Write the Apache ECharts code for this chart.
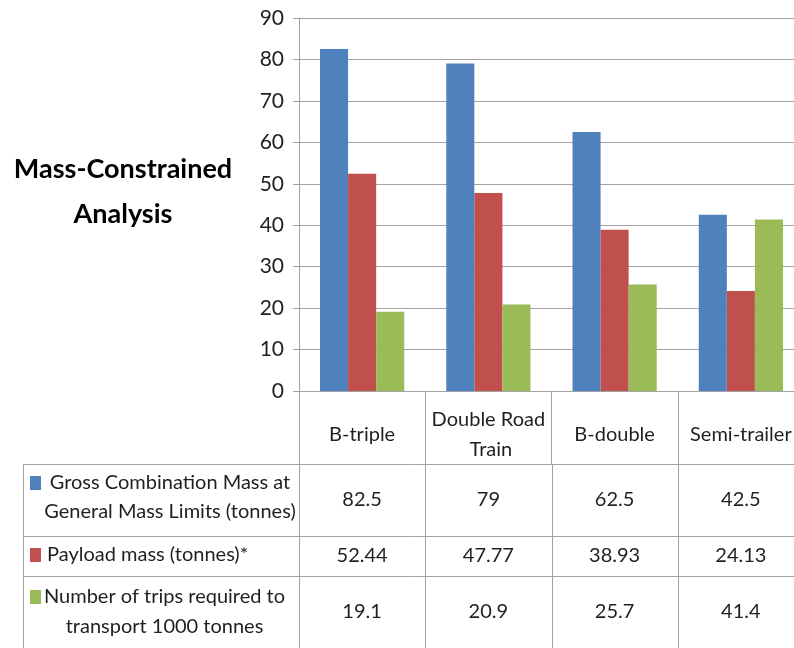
<!DOCTYPE html>
<html>
<head>
<meta charset="utf-8">
<script src="https://cdn.jsdelivr.net/npm/echarts@6/dist/echarts.min.js"></script>
<style>
  html, body { margin: 0; padding: 0; background: #fff; }
  #chart { width: 794px; height: 648px; }
</style>
</head>
<body>
<div id="chart"></div>
<script>
// Vehicle types along the category axis
const categories = ['B-triple', 'Double Road Train', 'B-double', 'Semi-trailer'];

// Series names as shown in the data table
const seriesNames = [
  'Gross Combination Mass at General Mass Limits (tonnes)',
  'Payload mass (tonnes)*',
  'Number of trips required to transport 1000 tonnes'
];

// Values per vehicle type
const grossMass = [82.5, 79, 62.5, 42.5];
const payloadMass = [52.44, 47.77, 38.93, 24.13];
const tripsPer1000t = [19.1, 20.9, 25.7, 41.4];

// Value-axis tick range
const yTicks = { min: 0, max: 90, step: 10 };

const seriesData = [grossMass, payloadMass, tripsPer1000t];
const colors = ['#4F81BD', '#C0504D', '#9BBB59'];
const FONT = 'Lato, "Noto Sans", sans-serif';
const GRID_LINE = '#a3a3a3';
const TEXT = '#1f1f1f';

const chart = echarts.init(document.getElementById('chart'), null, { renderer: 'canvas' });

// plot area runs slightly past the right edge of the canvas
const GRID = { left: 299, top: 18, right: -10, bottom: 257, outerBoundsMode: 'none' };
const AXIS_Y = 648 - GRID.bottom;

chart.setOption({
  animation: false,
  textStyle: { fontFamily: FONT },
  grid: GRID,
  xAxis: {
    type: 'category',
    data: categories,
    axisLine: { show: true, lineStyle: { color: GRID_LINE, width: 1 } },
    axisTick: { show: true, length: 73, lineStyle: { color: GRID_LINE, width: 1 } },
    axisLabel: {
      fontFamily: FONT, fontSize: 20, color: TEXT,
      margin: 44, verticalAlign: 'middle', lineHeight: 30,
      width: 118, overflow: 'break', interval: 0
    }
  },
  yAxis: {
    type: 'value',
    min: yTicks.min, max: yTicks.max, interval: yTicks.step,
    axisLine: { show: true, lineStyle: { color: GRID_LINE, width: 1 } },
    axisTick: { show: true, length: 6, lineStyle: { color: GRID_LINE } },
    axisLabel: { fontFamily: FONT, fontSize: 21, color: TEXT, margin: 15 },
    splitLine: { show: true, lineStyle: { color: GRID_LINE, width: 1 } }
  },
  series: seriesData.map((d, i) => ({
    type: 'bar',
    name: seriesNames[i],
    data: d,
    barGap: '0%',
    barCategoryGap: '33.3%',
    itemStyle: { color: colors[i] }
  }))
});

// Data table beneath the chart, aligned to the category axis bands
(function drawTable() {
  const rowTops = [464, 536, 576];          // row boundaries of the table body
  const tableLeft = 23;
  const centers = categories.map((c) => chart.convertToPixel({ xAxisIndex: 0 }, c));
  const band = centers[1] - centers[0];
  const els = [];
  const line = (x1, y1, x2, y2) => els.push({
    type: 'line', silent: true,
    shape: { x1, y1, x2, y2 },
    style: { stroke: GRID_LINE, lineWidth: 1 }
  });

  // horizontal rules
  rowTops.forEach((y) => line(tableLeft, y + 0.5, 794, y + 0.5));
  // vertical rules
  line(tableLeft + 0.5, rowTops[0], tableLeft + 0.5, 648);
  line(GRID.left + 0.5, AXIS_Y, GRID.left + 0.5, 648);
  centers.forEach((cx) => {
    const x = Math.round(cx + band / 2) + 0.5;
    line(x, rowTops[0], x, 648);
  });

  const txt = (text, x, y, align) => els.push({
    type: 'text', silent: true,
    style: { text, x, y, align: align || 'center', verticalAlign: 'middle',
      fill: TEXT, font: '20px ' + FONT }
  });

  // legend cells: colour key plus series name
  const legendLines = [
    { lines: ['Gross Combination Mass at', 'General Mass Limits (tonnes)'], cx: 170, ys: [483, 512] },
    { lines: ['Payload mass (tonnes)*'], cx: null, ys: [555] },
    { lines: ['Number of trips required to', 'transport 1000 tonnes'], cx: 164.5, ys: [597, 627] }
  ];
  legendLines.forEach((row, i) => {
    els.push({
      type: 'rect', silent: true,
      shape: { x: 30, y: row.ys[0] - 7, width: 11, height: 14 },
      style: { fill: colors[i] }
    });
    row.lines.forEach((t, k) => {
      if (row.cx === null) txt(t, 47, row.ys[k], 'left');
      else txt(t, row.cx, row.ys[k], 'center');
    });
  });

  // value cells
  const valueY = [500, 556, 612];
  seriesData.forEach((d, i) => {
    d.forEach((v, j) => txt(String(v), centers[j], valueY[i]));
  });

  // chart heading on the left
  ['Mass-Constrained', 'Analysis'].forEach((t, k) => els.push({
    type: 'text', silent: true,
    style: { text: t, x: 123, y: 169 + k * 45, align: 'center', verticalAlign: 'middle',
      fill: '#000', font: 'bold 27px ' + FONT }
  }));

  chart.setOption({ graphic: els });
})();
</script>
</body>
</html>
